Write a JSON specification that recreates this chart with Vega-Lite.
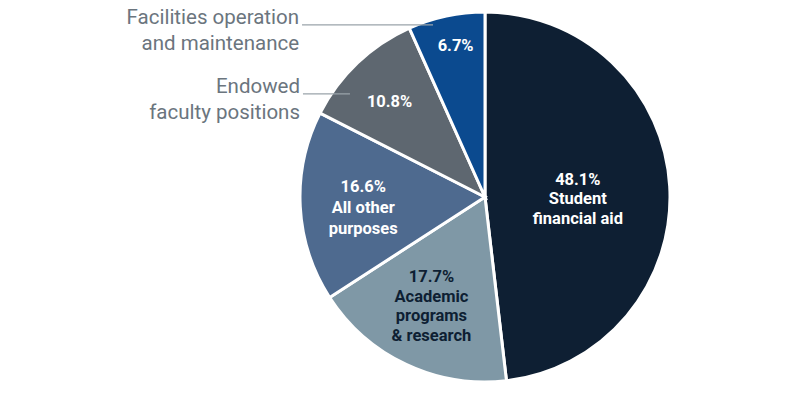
{
  "$schema": "https://vega.github.io/schema/vega-lite/v6.json",
  "width": 370,
  "height": 370,
  "autosize": {"type": "none"},
  "padding": {"left": 300, "top": 12, "right": 130, "bottom": 14},
  "background": "white",
  "view": {"stroke": null},
  "config": {"text": {"font": "Roboto"}},
  "datasets": {
    "slices": [
      {"category": "Student financial aid", "value": 48.1, "order": 1, "label": "48.1%\nStudent\nfinancial aid"},
      {"category": "Academic programs & research", "value": 17.7, "order": 2, "label": "17.7%\nAcademic\nprograms\n& research"},
      {"category": "All other purposes", "value": 16.6, "order": 3, "label": "16.6%\nAll other\npurposes"},
      {"category": "Endowed faculty positions", "value": 10.8, "order": 4, "label": "10.8%"},
      {"category": "Facilities operation and maintenance", "value": 6.7, "order": 5, "label": "6.7%"}
    ],
    "leaders": [
      {"name": "Facilities operation and maintenance", "x": -0.989, "x2": -0.281, "y": 0.93},
      {"name": "Endowed faculty positions", "x": -0.984, "x2": -0.73, "y": 0.557}
    ],
    "outside": [
      {"name": "Facilities operation\nand maintenance", "x": -1.005, "y": 0.9},
      {"name": "Endowed\u00a0\nfaculty positions", "x": -1.0, "y": 0.527}
    ]
  },
  "layer": [
    {
      "data": {"name": "slices"},
      "mark": {"type": "arc", "stroke": "white", "strokeWidth": 3},
      "encoding": {
        "theta": {"field": "value", "type": "quantitative", "stack": true},
        "order": {"field": "order", "type": "quantitative", "sort": "ascending"},
        "color": {
          "field": "category",
          "type": "nominal",
          "legend": null,
          "scale": {
            "domain": ["Student financial aid", "Academic programs & research", "All other purposes", "Endowed faculty positions", "Facilities operation and maintenance"],
            "range": ["#0e1f33", "#7f98a6", "#4e6a8f", "#5e6770", "#0b4a8f"]
          }
        }
      }
    },
    {
      "data": {"name": "slices"},
      "mark": {"type": "text", "radius": 93, "dy": -12, "fontSize": 16.5, "fontWeight": "bold", "lineBreak": "\n", "lineHeight": 19.5, "baseline": "middle", "align": "center", "fill": "white"},
      "encoding": {
        "theta": {"field": "value", "type": "quantitative", "stack": true},
        "order": {"field": "order", "type": "quantitative", "sort": "ascending"},
        "text": {"condition": {"test": "datum.order === 1", "field": "label"}, "value": ""}
      }
    },
    {
      "data": {"name": "slices"},
      "mark": {"type": "text", "radius": 121, "dy": -29, "dx": -2, "fontSize": 16.5, "fontWeight": "bold", "lineBreak": "\n", "lineHeight": 19.5, "baseline": "middle", "align": "center", "fill": "#0e1f33"},
      "encoding": {
        "theta": {"field": "value", "type": "quantitative", "stack": true},
        "order": {"field": "order", "type": "quantitative", "sort": "ascending"},
        "text": {"condition": {"test": "datum.order === 2", "field": "label"}, "value": ""}
      }
    },
    {
      "data": {"name": "slices"},
      "mark": {"type": "text", "radius": 121, "dy": -16, "dx": -1, "fontSize": 16.5, "fontWeight": "bold", "lineBreak": "\n", "lineHeight": 21, "baseline": "middle", "align": "center", "fill": "white"},
      "encoding": {
        "theta": {"field": "value", "type": "quantitative", "stack": true},
        "order": {"field": "order", "type": "quantitative", "sort": "ascending"},
        "text": {"condition": {"test": "datum.order === 3", "field": "label"}, "value": ""}
      }
    },
    {
      "data": {"name": "slices"},
      "mark": {"type": "text", "radius": 134, "dx": -3, "dy": 2, "fontSize": 16.5, "fontWeight": "bold", "baseline": "middle", "align": "center", "fill": "white"},
      "encoding": {
        "theta": {"field": "value", "type": "quantitative", "stack": true},
        "order": {"field": "order", "type": "quantitative", "sort": "ascending"},
        "text": {"condition": {"test": "datum.order === 4", "field": "label"}, "value": ""}
      }
    },
    {
      "data": {"name": "slices"},
      "mark": {"type": "text", "radius": 155, "dx": 3, "dy": 1, "fontSize": 16.5, "fontWeight": "bold", "baseline": "middle", "align": "center", "fill": "white"},
      "encoding": {
        "theta": {"field": "value", "type": "quantitative", "stack": true},
        "order": {"field": "order", "type": "quantitative", "sort": "ascending"},
        "text": {"condition": {"test": "datum.order === 5", "field": "label"}, "value": ""}
      }
    },
    {
      "data": {"name": "leaders"},
      "mark": {"type": "rule", "stroke": "#9aa3aa", "strokeWidth": 1.2},
      "encoding": {
        "x": {"field": "x", "type": "quantitative", "scale": {"domain": [-1, 1]}, "axis": null},
        "x2": {"field": "x2"},
        "y": {"field": "y", "type": "quantitative", "scale": {"domain": [-1, 1]}, "axis": null}
      }
    },
    {
      "data": {"name": "outside"},
      "mark": {"type": "text", "fontSize": 20.5, "dy": -13, "lineBreak": "\n", "lineHeight": 26, "baseline": "middle", "align": "right", "fill": "#6b757e"},
      "encoding": {
        "x": {"field": "x", "type": "quantitative", "scale": {"domain": [-1, 1]}, "axis": null},
        "y": {"field": "y", "type": "quantitative", "scale": {"domain": [-1, 1]}, "axis": null},
        "text": {"field": "name"}
      }
    }
  ]
}
